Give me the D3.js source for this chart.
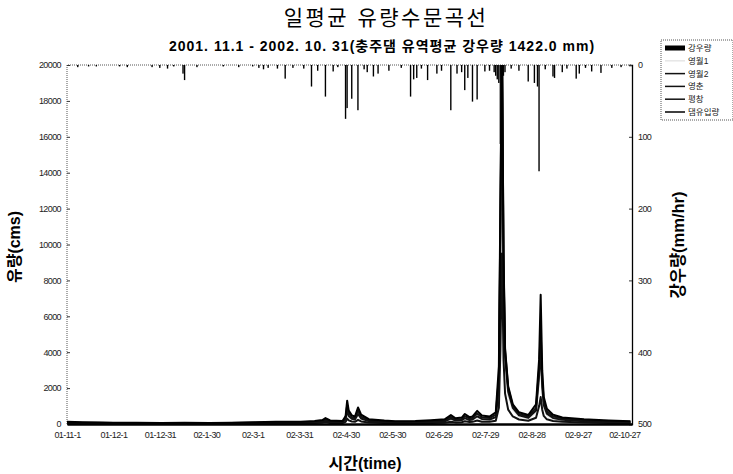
<!DOCTYPE html>
<html>
<head>
<meta charset="utf-8">
<script src="https://cdn.jsdelivr.net/npm/d3@7"></script>
<style>
body { margin: 0; background: #fff; }
text { font-family: "Liberation Sans", "Noto Sans CJK KR", sans-serif; }
</style>
</head>
<body>
<svg></svg>
<script>
// 일평균 유량 (cms) - 공통 날짜
const flowDates = [
    "2001-11-01", "2001-11-11", "2001-11-21", "2001-12-01", "2001-12-16", "2002-01-01", "2002-01-16", "2002-02-01",
    "2002-02-15", "2002-03-01", "2002-03-16", "2002-04-01", "2002-04-10", "2002-04-15", "2002-04-17", "2002-04-20",
    "2002-04-28", "2002-04-30", "2002-05-01", "2002-05-02", "2002-05-04", "2002-05-06", "2002-05-08", "2002-05-10",
    "2002-05-15", "2002-05-25", "2002-06-01", "2002-06-14", "2002-06-24", "2002-07-03", "2002-07-07", "2002-07-10",
    "2002-07-14", "2002-07-16", "2002-07-19", "2002-07-21", "2002-07-24", "2002-07-27", "2002-08-01", "2002-08-05",
    "2002-08-07", "2002-08-08", "2002-08-09", "2002-08-10", "2002-08-11", "2002-08-13", "2002-08-16", "2002-08-20",
    "2002-08-26", "2002-08-31", "2002-09-02", "2002-09-03", "2002-09-04", "2002-09-05", "2002-09-07", "2002-09-11",
    "2002-09-17", "2002-10-01", "2002-10-17", "2002-10-31"
];
const yeongwol1 = [60, 50, 45, 40, 35, 30, 35, 32, 40, 50, 60, 65, 85, 110, 160, 100, 90, 230, 700, 400, 260, 230, 500, 280,
    140, 100, 85, 90, 110, 140, 270, 170, 190, 300, 200, 220, 390, 250, 220, 350, 1800, 9000, 19500, 7800, 3300, 1600, 800, 420,
    300, 650, 2400, 3800, 1800, 900, 500, 300, 200, 140, 100, 80];
const yeongwol2 = [70, 55, 50, 45, 40, 35, 40, 36, 45, 55, 70, 75, 95, 120, 180, 115, 100, 260, 800, 450, 290, 250, 560, 310,
    160, 110, 95, 100, 125, 150, 300, 190, 210, 330, 220, 250, 430, 280, 250, 380, 2100, 10500, 20500, 8600, 3800, 1800, 900, 480,
    340, 750, 2700, 4200, 2100, 1050, 580, 340, 230, 160, 115, 95];
const yeongchun = [90, 75, 65, 60, 50, 45, 52, 48, 58, 75, 95, 100, 130, 170, 250, 150, 130, 350, 1050, 600, 380, 330, 740, 410,
    210, 150, 125, 130, 165, 200, 400, 250, 280, 440, 300, 330, 580, 370, 330, 520, 2600, 11800, 22000, 9200, 4100, 2000, 1000, 560,
    420, 900, 3100, 5200, 2500, 1250, 700, 430, 300, 210, 150, 120];
const pyeongchang = [30, 25, 22, 20, 18, 15, 18, 16, 20, 28, 35, 40, 55, 70, 95, 60, 50, 120, 300, 200, 140, 120, 230, 140,
    80, 55, 45, 50, 60, 75, 130, 90, 100, 150, 110, 120, 190, 130, 120, 180, 900, 4200, 9500, 3600, 1700, 800, 420, 250,
    180, 350, 1000, 1500, 800, 450, 260, 170, 120, 85, 60, 50];
const damInflow = [120, 95, 85, 75, 65, 60, 70, 60, 75, 95, 120, 130, 170, 220, 330, 200, 170, 450, 1300, 750, 480, 420, 920, 520,
    270, 190, 160, 170, 210, 260, 500, 320, 360, 560, 380, 420, 730, 470, 420, 650, 3200, 12500, 21500, 9500, 4200, 2100, 1100, 650,
    500, 1100, 3600, 7200, 3000, 1500, 850, 520, 360, 260, 190, 150];

// 유역평균 강우량 (mm)
const rainDates = [
    "2001-11-08", "2001-11-15", "2001-11-20", "2001-12-05", "2001-12-10", "2001-12-26", "2001-12-31", "2002-01-05",
    "2002-01-09", "2002-01-15", "2002-01-16", "2002-01-24", "2002-02-10", "2002-02-20", "2002-03-01", "2002-03-05",
    "2002-03-08", "2002-03-11", "2002-03-17", "2002-03-22", "2002-03-27", "2002-04-03", "2002-04-08", "2002-04-12",
    "2002-04-17", "2002-04-22", "2002-04-25", "2002-04-30", "2002-05-01", "2002-05-04", "2002-05-08", "2002-05-12",
    "2002-05-14", "2002-05-18", "2002-05-21", "2002-05-28", "2002-06-05", "2002-06-11", "2002-06-13", "2002-06-15",
    "2002-06-18", "2002-06-22", "2002-06-28", "2002-07-01", "2002-07-07", "2002-07-11", "2002-07-14", "2002-07-16",
    "2002-07-18", "2002-07-21", "2002-07-24", "2002-07-29", "2002-08-01", "2002-08-04", "2002-08-05", "2002-08-06",
    "2002-08-07", "2002-08-08", "2002-08-09", "2002-08-10", "2002-08-11", "2002-08-15", "2002-08-20", "2002-08-26",
    "2002-08-30", "2002-09-01", "2002-09-02", "2002-09-06", "2002-09-11", "2002-09-12", "2002-09-17", "2002-09-20",
    "2002-09-26", "2002-09-28", "2002-10-02", "2002-10-06", "2002-10-12", "2002-10-19", "2002-10-25"
];
const rainMm = [3, 2, 2, 2, 3, 3, 4, 5,
    2, 12, 21, 3, 2, 3, 2, 4,
    6, 4, 5, 19, 4, 5, 30, 8,
    44, 9, 3, 75, 60, 47, 63, 6,
    10, 16, 12, 8, 4, 44, 20, 18,
    5, 21, 12, 8, 63, 12, 10, 35,
    18, 51, 48, 9, 8, 10, 15, 20,
    25, 110, 60, 15, 10, 5, 8, 23,
    25, 30, 148, 6, 16, 18, 10, 5,
    19, 12, 4, 9, 11, 4, 3];

const xTickDates = ["2001-11-01", "2001-12-01", "2001-12-31", "2002-01-30", "2002-03-01", "2002-03-31", "2002-04-30",
    "2002-05-30", "2002-06-29", "2002-07-29", "2002-08-28", "2002-09-27", "2002-10-27"];
const xTickLabels = ["01-11-1", "01-12-1", "01-12-31", "02-1-30", "02-3-1", "02-3-31", "02-4-30",
    "02-5-30", "02-6-29", "02-7-29", "02-8-28", "02-9-27", "02-10-27"];
const flowTicks = [0, 2000, 4000, 6000, 8000, 10000, 12000, 14000, 16000, 18000, 20000];
const rainTicks = [0, 100, 200, 300, 400, 500];

const seriesNames = ["영월1", "영월2", "영춘", "평창", "댐유입량"];
const seriesValues = [yeongwol1, yeongwol2, yeongchun, pyeongchang, damInflow];
const seriesColors = ["#e6e6e6", "#111", "#111", "#111", "#000"];

const width = 733, height = 474;
const plotL = 67, plotR = 632, plotT = 65, plotB = 424;
const parse = d3.timeParse("%Y-%m-%d");

const svg = d3.select("svg").attr("width", width).attr("height", height);

const x = d3.scaleTime()
    .domain([parse("2001-11-01"), parse("2002-11-01")])
    .range([plotL, plotR]);
const yFlow = d3.scaleLinear().domain([0, 20000]).range([plotB, plotT]);
const yRain = d3.scaleLinear().domain([0, 500]).range([plotT, plotB]);

svg.append("clipPath").attr("id", "plot")
    .append("rect").attr("x", plotL).attr("y", plotT).attr("width", plotR - plotL).attr("height", plotB - plotT);

// 테두리 (점선)
svg.append("path")
    .attr("d", "M" + plotL + "," + plotB + "V" + plotT + "H" + plotR)
    .attr("fill", "none").attr("stroke", "#555").attr("stroke-width", 1).attr("stroke-dasharray", "1,1");

// 강우량 막대
const dayW = x(parse("2002-01-02")) - x(parse("2002-01-01"));
svg.append("g").selectAll("rect")
    .data(rainDates.map((d, i) => ({ date: parse(d), v: rainMm[i] })))
    .enter().append("rect")
    .attr("x", d => x(d.date) - dayW / 2)
    .attr("y", yRain(0))
    .attr("width", dayW * 0.9)
    .attr("height", d => yRain(d.v) - yRain(0))
    .attr("fill", "#000");

// 유량 선
const line = d3.line()
    .x(d => x(d.date))
    .y(d => yFlow(d.v));
const lines = svg.append("g").attr("clip-path", "url(#plot)");
seriesValues.forEach((vals, k) => {
    lines.append("path")
        .datum(flowDates.map((d, i) => ({ date: parse(d), v: vals[i] })))
        .attr("fill", "none")
        .attr("stroke", seriesColors[k])
        .attr("stroke-width", 2)
        .attr("stroke-linejoin", "round")
        .attr("d", line);
});

// 왼쪽 축
const axisL = svg.append("g").attr("transform", "translate(" + plotL + ",0)")
    .call(d3.axisRight(yFlow).tickValues(flowTicks).tickSize(3).tickFormat(d3.format("d")));
axisL.select(".domain").remove();
axisL.selectAll("line").attr("stroke", "#333");
axisL.selectAll("text").attr("x", -6).attr("text-anchor", "end")
    .attr("font-size", 9).attr("fill", "#222").attr("letter-spacing", -0.6);

// 오른쪽 축
const axisR = svg.append("g").attr("transform", "translate(" + plotR + ",0)")
    .call(d3.axisLeft(yRain).tickValues(rainTicks).tickSize(3));
axisR.select(".domain").attr("stroke", "#000").attr("stroke-width", 1.3);
axisR.selectAll("line").attr("stroke", "#333");
axisR.selectAll("text").attr("x", 6).attr("text-anchor", "start")
    .attr("font-size", 9).attr("fill", "#222").attr("letter-spacing", -0.6);

// 아래 축
const axisB = svg.append("g").attr("transform", "translate(0," + plotB + ")")
    .call(d3.axisBottom(x).tickValues(xTickDates.map(parse)).tickSize(0)
        .tickFormat((d, i) => xTickLabels[i]));
axisB.select(".domain").attr("stroke", "#000").attr("stroke-width", 2.5);
axisB.selectAll("text").attr("dy", "1.2em")
    .attr("font-size", 9).attr("fill", "#222").attr("letter-spacing", -0.6);

// 제목
svg.append("text").attr("x", 386).attr("y", 25).attr("text-anchor", "middle")
    .attr("font-family", "Noto Sans CJK KR").attr("font-size", 21).attr("font-weight", 400)
    .attr("letter-spacing", 2.5)
    .text("일평균 유량수문곡선");
svg.append("text").attr("x", 382).attr("y", 51).attr("text-anchor", "middle")
    .attr("font-size", 14).attr("font-weight", "bold").attr("letter-spacing", 1)
    .text("2001. 11.1 - 2002. 10. 31(충주댐 유역평균 강우량 1422.0 mm)");

svg.append("text").attr("x", 365).attr("y", 469).attr("text-anchor", "middle")
    .attr("font-size", 16).attr("font-weight", "bold").text("시간(time)");
svg.append("text").attr("transform", "translate(20,247) rotate(-90)").attr("text-anchor", "middle")
    .attr("font-size", 16).attr("font-weight", "bold").text("유량(cms)");
svg.append("text").attr("transform", "translate(684,245) rotate(-90)").attr("text-anchor", "middle")
    .attr("font-size", 16.5).attr("font-weight", "bold").text("강우량(mm/hr)");

// 범례
const legend = svg.append("g").attr("transform", "translate(661,40)");
legend.append("rect").attr("width", 72).attr("height", 80)
    .attr("fill", "#fff").attr("stroke", "#555").attr("stroke-dasharray", "1,1");
const legendNames = ["강우량"].concat(seriesNames);
legendNames.forEach((name, i) => {
    const ly = 8 + i * 12.8;
    if (i === 0) {
        legend.append("rect").attr("x", 4).attr("y", ly - 2.5).attr("width", 20).attr("height", 5).attr("fill", "#000");
    } else {
        legend.append("line").attr("x1", 4).attr("x2", 24).attr("y1", ly).attr("y2", ly)
            .attr("stroke", seriesColors[i - 1]).attr("stroke-width", 1.5);
    }
    legend.append("text").attr("x", 27).attr("y", ly + 3).attr("font-size", 8.5).attr("fill", "#222").text(name);
});
</script>
</body>
</html>
